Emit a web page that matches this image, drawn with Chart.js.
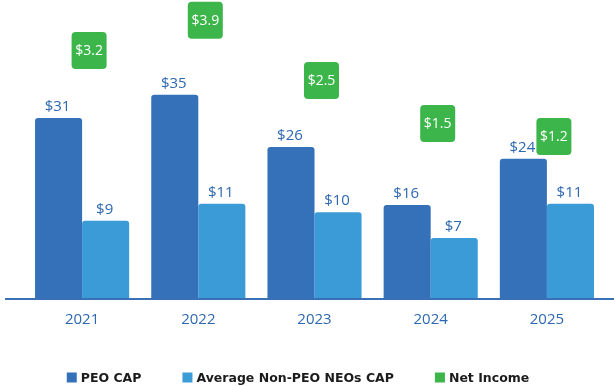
<!DOCTYPE html>
<html>
<head>
<meta charset="utf-8">
<script src="https://cdn.jsdelivr.net/npm/chart.js@4.4.1/dist/chart.umd.min.js"></script>
<style>
  html, body { margin: 0; padding: 0; background: #fff; }
  #wrap { width: 614px; height: 386px; }
</style>
</head>
<body>
<div id="wrap"><canvas id="chart"></canvas></div>
<script>
const years = ["2021", "2022", "2023", "2024", "2025"];
const peoCap = [31, 35, 26, 16, 24];
const nonPeoCap = [9, 11, 10, 7, 11];
const netIncome = [3.2, 3.9, 2.5, 1.5, 1.2];

const textBlue = "#2d68b1";
const green = "#3cb54a";

// baseline, value labels above bars, green net income boxes, legend row
const labelPlugin = {
    id: "labels",
    beforeDatasetsDraw(chart) {
        const { ctx, chartArea } = chart;
        ctx.save();
        ctx.strokeStyle = "#3a70b5";
        ctx.lineWidth = 2;
        ctx.beginPath();
        ctx.moveTo(5, chartArea.bottom + 1);
        ctx.lineTo(chart.width, chartArea.bottom + 1);
        ctx.stroke();
        ctx.restore();
    },
    afterDatasetsDraw(chart) {
        const { ctx } = chart;
        ctx.save();
        [0, 1].forEach((di) => {
            const values = chart.data.datasets[di].data;
            chart.getDatasetMeta(di).data.forEach((bar, i) => {
                ctx.fillStyle = textBlue;
                ctx.font = "15px 'Open Sans'";
                ctx.textAlign = "center";
                ctx.textBaseline = "alphabetic";
                ctx.fillText("$" + values[i], bar.x - 1, bar.y - 7);
            });
        });
        chart.getDatasetMeta(2).data.forEach((pt, i) => {
            const w = 35, h = 37;
            const cx = pt.x + 7;
            ctx.fillStyle = green;
            ctx.beginPath();
            ctx.roundRect(cx - w / 2, pt.y - h / 2, w, h, 4);
            ctx.fill();
            ctx.fillStyle = "#ffffff";
            ctx.font = "14px 'Open Sans'";
            ctx.textAlign = "center";
            ctx.textBaseline = "middle";
            ctx.fillText("$" + netIncome[i].toFixed(1), cx, pt.y + 1);
        });
        ctx.restore();
    },
    afterDraw(chart) {
        const { ctx } = chart;
        const sets = chart.data.datasets;
        ctx.save();
        ctx.font = "bold 12.5px 'DejaVu Sans'";
        const box = 10, gap = 4, spacing = 41;
        const widths = sets.map((d) => box + gap + ctx.measureText(d.label).width);
        const total = widths.reduce((a, b) => a + b, 0) + spacing * (sets.length - 1);
        let x = 298 - total / 2;
        const y = 377.5;
        sets.forEach((d, i) => {
            ctx.fillStyle = d.backgroundColor;
            ctx.fillRect(x, y - box / 2, box, box);
            ctx.fillStyle = "#1b1b1b";
            ctx.textAlign = "left";
            ctx.textBaseline = "middle";
            ctx.fillText(d.label, x + box + gap, y + 1);
            x += widths[i] + spacing;
        });
        ctx.restore();
    }
};

new Chart(document.getElementById("chart"), {
    type: "bar",
    data: {
        labels: years,
        datasets: [
            {
                label: "PEO CAP",
                data: peoCap,
                backgroundColor: "#3571b9",
                borderWidth: 0,
                borderRadius: { topLeft: 3, topRight: 3 },
                borderSkipped: "bottom",
                yAxisID: "y",
                categoryPercentage: 0.81,
                barPercentage: 1.0
            },
            {
                label: "Average Non-PEO NEOs CAP",
                data: nonPeoCap,
                backgroundColor: "#3b9bd7",
                borderWidth: 0,
                borderRadius: { topLeft: 3, topRight: 3 },
                borderSkipped: "bottom",
                yAxisID: "y2",
                categoryPercentage: 0.81,
                barPercentage: 1.0
            },
            {
                type: "line",
                label: "Net Income",
                data: netIncome,
                backgroundColor: green,
                borderColor: green,
                borderWidth: 0,
                showLine: false,
                pointRadius: 0,
                yAxisID: "y3"
            }
        ]
    },
    options: {
        responsive: true,
        maintainAspectRatio: false,
        animation: false,
        layout: {
            padding: { left: 24, right: 9, top: 10, bottom: 52 }
        },
        plugins: {
            tooltip: { enabled: false },
            legend: { display: false }
        },
        scales: {
            x: {
                grid: { display: false },
                border: { display: false },
                ticks: {
                    color: textBlue,
                    padding: 5,
                    font: { family: "'Open Sans'", size: 15 }
                }
            },
            y: { display: false, min: 0, max: 49.6 },
            y2: { display: false, min: 0, max: 33.6 },
            y3: { display: false, min: -2.56, max: 4.14 }
        }
    },
    plugins: [labelPlugin]
});
</script>
</body>
</html>
